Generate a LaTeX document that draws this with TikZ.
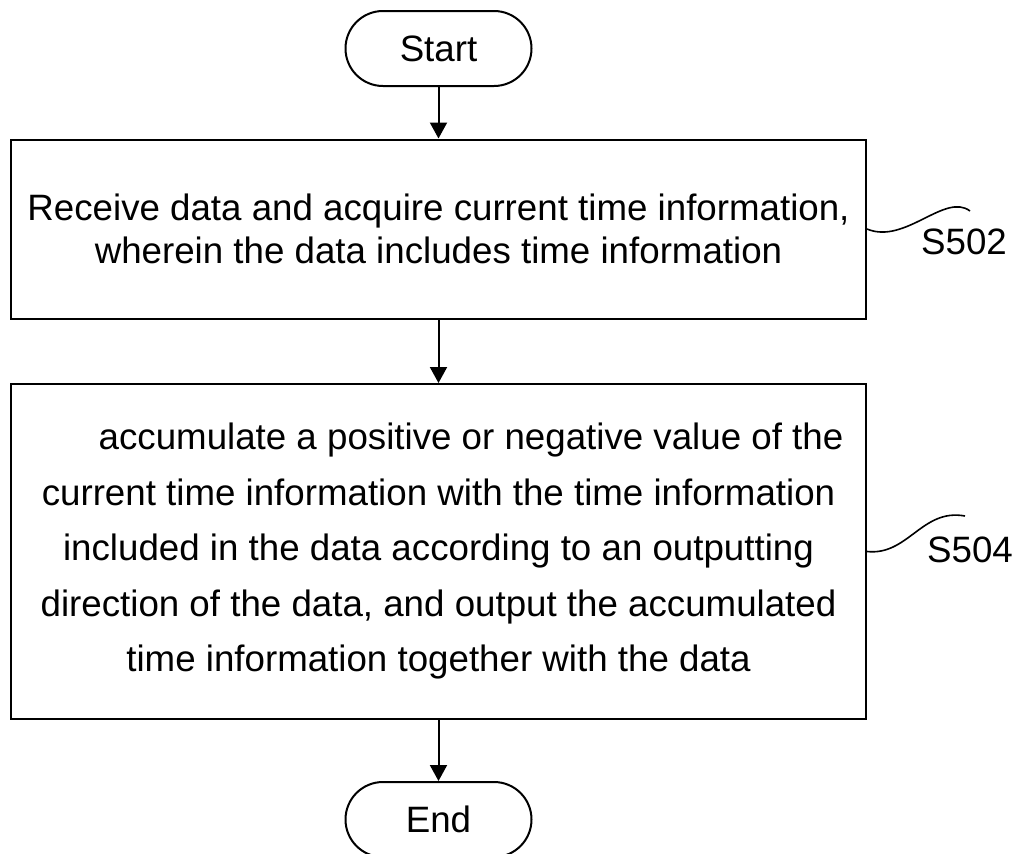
\documentclass[tikz,border=0pt]{standalone}
\usepackage{fontspec}
\setmainfont{Liberation Sans}
\usetikzlibrary{arrows.meta,shapes.misc}
\begin{document}
\begin{tikzpicture}[x=1pt,y=-1pt,
  txt/.style={font=\fontsize{36.7}{43}\selectfont},
  term/.style={draw,line width=2pt,shape=rounded rectangle,minimum width=186pt,minimum height=75pt,inner sep=0pt,txt},
  stepbox/.style={draw,line width=2pt,minimum width=855pt,inner sep=0pt,align=center,txt},
  arr/.style={line width=2pt,-{Triangle[length=16pt,width=17pt]}},
  squig/.style={line width=1.6pt},
  lbl/.style={inner sep=0pt,txt}]
  \useasboundingbox (0,0) rectangle (1021,854);
  \clip (0,0) rectangle (1021,854);

  % terminals and process steps
  \node[term] (start) at (438.5,48.5) {Start};
  \node[stepbox,minimum height=179pt] (s1) at (438.5,229)
    {Receive data and acquire current time information,\\
     wherein the data includes time information};
  \node[stepbox,minimum height=335pt,font=\fontsize{36.7}{55.5}\selectfont] (s2) at (438.5,551.5)
    {\hspace*{65pt}accumulate a positive or negative value of the\\
     current time information with the time information\\
     included in the data according to an outputting\\
     direction of the data, and output the accumulated\\
     time information together with the data};
  \node[term] (end) at (438.5,819.5) {End};

  % flow
  \draw[arr] (start) -- (s1);
  \draw[arr] (s1) -- (s2);
  \draw[arr] (s2) -- (end);

  % step labels with leader curves
  \coordinate (t1) at (970,211);
  \coordinate (t2) at (965,516);
  \draw[squig] (s1.east) .. controls (905,245) and (945,192) .. (t1);
  \draw[squig] (s2.east) .. controls (908,556) and (922,508) .. (t2);
  \node[lbl] (l1) at (964,242) {S502};
  \node[lbl] (l2) at (970,550) {S504};
\end{tikzpicture}
\end{document}
